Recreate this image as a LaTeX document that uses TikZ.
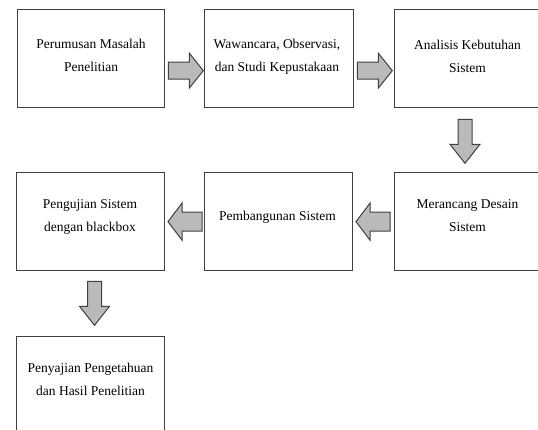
\documentclass[tikz,border=0pt]{standalone}
\usepackage{fontspec}
\setmainfont{Liberation Serif}
\usetikzlibrary{calc}
\begin{document}
\begin{tikzpicture}[x=1pt,y=-1pt,
  box/.style={draw=black!75, line width=1.3pt, anchor=north west, inner sep=0pt},
  barrow/.style={draw=black!75, fill=black!27, line width=1pt, line join=miter},
  lbl/.style={font=\fontsize{13.5}{23}\selectfont, align=center, anchor=base, inner sep=0pt, text=black},
  rblk/.pic={\path[barrow] (0,-8.5) -- (21,-8.5) -- (21,-17.5) -- (35,0) -- (21,17.5) -- (21,8.5) -- (0,8.5) -- cycle;},
  lblk/.pic={\path[barrow] (0,-9.5) -- (-20,-9.5) -- (-20,-18.5) -- (-34,0) -- (-20,18.5) -- (-20,9.5) -- (0,9.5) -- cycle;},
  dblk/.pic={\path[barrow] (-7,0) -- (-7,25) -- (-15,25) -- (0,44) -- (15,25) -- (7,25) -- (7,0) -- cycle;}
]
\clip (0,0) rectangle (538,430);
\fill[white] (0,0) rectangle (538,430);
% boxes
\node[box, minimum width=147pt, minimum height=98pt] (b1) at (17,9) {};
\node[box, minimum width=149pt, minimum height=98pt] (b2) at (204,9) {};
\node[box, minimum width=170pt, minimum height=98pt] (b3) at (394,9) {};
\node[box, minimum width=170pt, minimum height=98pt] (b4) at (394,172) {};
\node[box, minimum width=148pt, minimum height=98pt] (b5) at (204,172) {};
\node[box, minimum width=148pt, minimum height=98pt] (b6) at (16,172) {};
\node[box, minimum width=148pt, minimum height=120pt] (b7) at (16,336) {};
% texts (anchor = baseline of the last line)
\node[lbl] (t1) at (91,72) {Perumusan Masalah\\Penelitian};
\node[lbl] (t2) at (277,71.5) {Wawancara, Observasi,\\dan Studi Kepustakaan};
\node[lbl] (t3) at (467.5,73) {Analisis Kebutuhan\\Sistem};
\node[lbl] (t4) at (467.5,232) {Merancang Desain\\Sistem};
\node[lbl] (t5) at (277.5,221) {Pembangunan Sistem};
\node[lbl] (t6) at (90,232) {Pengujian Sistem\\dengan blackbox};
\node[lbl] (t7) at (90.5,395) {Penyajian Pengetahuan\\dan Hasil Penelitian};
% block arrows
\pic at ($(b1.east)+(3,12)$) {rblk};
\pic at ($(b2.east)+(3,12)$) {rblk};
\pic at ($(b3.south west)+(71,11)$) {dblk};
\pic at ($(b4.west)+(-4,0)$) {lblk};
\pic at ($(b5.west)+(-2,0)$) {lblk};
\pic at ($(b6.south west)+(78.5,10)$) {dblk};
\end{tikzpicture}
\end{document}
